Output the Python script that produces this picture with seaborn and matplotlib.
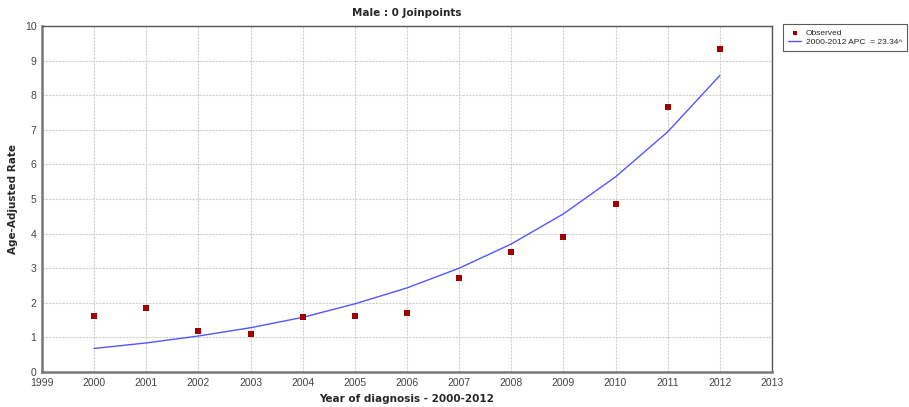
import pandas as pd
import numpy as np
import matplotlib.pyplot as plt
import seaborn as sns

years = [2000, 2001, 2002, 2003, 2004, 2005, 2006, 2007, 2008, 2009, 2010, 2011, 2012]
observed = [1.62, 1.85, 1.18, 1.09, 1.60, 1.63, 1.70, 2.71, 3.46, 3.90, 4.87, 7.65, 9.33]
modeled = [0.68, 0.84, 1.04, 1.28, 1.58, 1.97, 2.43, 3.00, 3.70, 4.57, 5.64, 6.94, 8.57]

df = pd.DataFrame({"Year": years, "Observed": observed, "Modeled": modeled})

sns.set_style("white")
plt.rcParams['font.family'] = ['Liberation Sans', 'DejaVu Sans']

fig = plt.figure(figsize=(9.09, 4.07), dpi=100)
ax = fig.add_axes([0.0462, 0.086, 0.803, 0.850])

sns.lineplot(x="Year", y="Modeled", data=df, color="#5555ff", linewidth=1.0,
             ax=ax, label="2000-2012 APC  = 23.34^")
sns.scatterplot(x="Year", y="Observed", data=df, color="#a00000", marker="s",
                s=14, edgecolor="#a00000", linewidth=0, ax=ax, label="Observed", zorder=5)

ax.set_xlim(1999, 2013)
ax.set_ylim(0, 10)
ax.set_xticks(range(1999, 2014))
ax.set_yticks(range(0, 11))
ax.tick_params(axis="both", labelsize=7.5, colors="#444444", length=2, pad=2)
ax.grid(True, color="#cfcfcf", linestyle=(0, (2, 1)), linewidth=0.8)

for side in ["top", "right"]:
    ax.spines[side].set_color("#555555")
    ax.spines[side].set_linewidth(1.0)
for side in ["left", "bottom"]:
    ax.spines[side].set_color("#777777")
    ax.spines[side].set_linewidth(1.8)

ax.set_title("Male : 0 Joinpoints", fontsize=7.5, fontweight="bold",
             family="DejaVu Sans", pad=7)
ax.set_xlabel("Year of diagnosis - 2000-2012", fontsize=7.5, fontweight="bold",
              family="DejaVu Sans", labelpad=5)
ax.set_ylabel("Age-Adjusted Rate", fontsize=7.5, fontweight="bold",
              family="DejaVu Sans", labelpad=5)

handles, labels = ax.get_legend_handles_labels()
ax.get_legend().remove()
order = [1, 0]
leg = fig.legend([handles[i] for i in order], [labels[i] for i in order],
                 loc="upper left", bbox_to_anchor=(0.861, 0.941), fontsize=6.0,
                 frameon=True, fancybox=False, edgecolor="#333333",
                 handlelength=1.6, borderpad=0.65, labelspacing=0.1,
                 handletextpad=0.5, borderaxespad=0, markerscale=0.8)
leg.get_frame().set_linewidth(0.8)

fig.savefig("out.png", dpi=100)
